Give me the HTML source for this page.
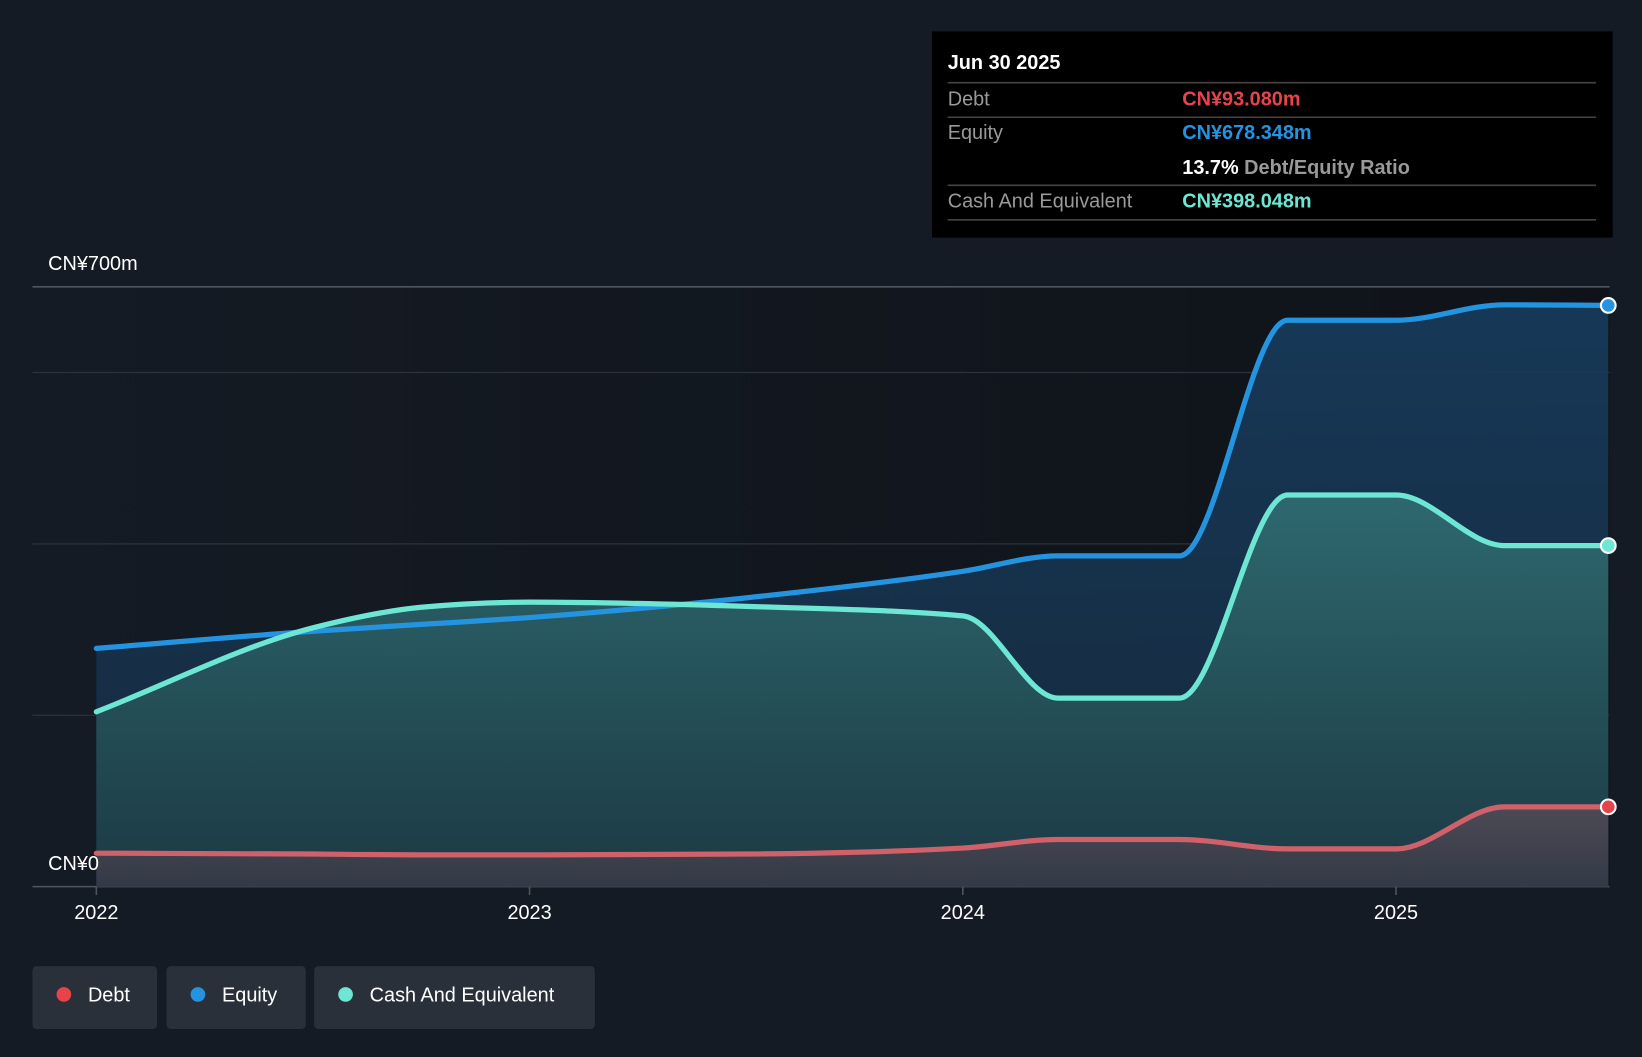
<!DOCTYPE html>
<html><head><meta charset="utf-8"><style>
html,body{margin:0;padding:0;background:#151b24;}
body{width:1642px;height:1052px;overflow:hidden;font-family:"Liberation Sans",sans-serif;}
svg text{font-family:"Liberation Sans",sans-serif;}
</style></head><body>
<svg id="chart" width="1642" height="1052" viewBox="0 0 1568 1005" preserveAspectRatio="none" xmlns="http://www.w3.org/2000/svg">
<defs>
<linearGradient id="gEq" x1="0" y1="0" x2="0" y2="1"><stop offset="0" stop-color="#173a5a"/><stop offset="1" stop-color="#152a3e"/></linearGradient>
<linearGradient id="gCash" x1="0" y1="0" x2="0" y2="1"><stop offset="0" stop-color="#2f6b70"/><stop offset="1" stop-color="#1c3a44"/></linearGradient>
<linearGradient id="gDebt" x1="0" y1="0" x2="0" y2="1"><stop offset="0" stop-color="#4f4a55"/><stop offset="1" stop-color="#343a46"/></linearGradient>
<linearGradient id="gBg" x1="0" y1="0" x2="1" y2="0"><stop offset="0" stop-color="#151b24"/><stop offset="1" stop-color="#0f1319"/></linearGradient>
</defs>
<rect x="31" y="274" width="1506" height="573" fill="url(#gBg)"/>
<g id="grid"></g>
<g id="areas"></g>
<g id="lines"></g>
<g id="xaxis"></g>
<text x="46" y="258" fill="#fff" font-size="19">CN¥700m</text>
<text x="46" y="831" fill="#fff" font-size="19">CN¥0</text>
<g>
<rect x="890" y="30" width="650" height="197" fill="#000"/>
<text x="905" y="66" fill="#fff" font-size="19" font-weight="bold">Jun 30 2025</text>
<line x1="905" y1="79" x2="1524" y2="79" stroke="#444" stroke-width="1.5"/>
<text x="905" y="101" fill="#999" font-size="19">Debt</text>
<text x="1129" y="101" fill="#e8434a" font-size="19" font-weight="bold">CN¥93.080m</text>
<line x1="905" y1="112" x2="1524" y2="112" stroke="#444" stroke-width="1.5"/>
<text x="905" y="133" fill="#999" font-size="19">Equity</text>
<text x="1129" y="133" fill="#2494e0" font-size="19" font-weight="bold">CN¥678.348m</text>
<text x="1129" y="166" fill="#fff" font-size="19" font-weight="bold">13.7% <tspan fill="#999">Debt/Equity Ratio</tspan></text>
<line x1="905" y1="177" x2="1524" y2="177" stroke="#444" stroke-width="1.5"/>
<text x="905" y="198" fill="#999" font-size="19">Cash And Equivalent</text>
<text x="1129" y="198" fill="#6ee6d4" font-size="19" font-weight="bold">CN¥398.048m</text>
<line x1="905" y1="210" x2="1524" y2="210" stroke="#444" stroke-width="1.5"/>
</g>
<g><rect x="31" y="923" width="119" height="60" rx="4" fill="#2a303a"/><circle cx="61" cy="950" r="7" fill="#e8434a"/><text x="84" y="957" fill="#fff" font-size="19">Debt</text></g>
<g><rect x="159" y="923" width="133" height="60" rx="4" fill="#2a303a"/><circle cx="189" cy="950" r="7" fill="#2494e0"/><text x="212" y="957" fill="#fff" font-size="19">Equity</text></g>
<g><rect x="300" y="923" width="268" height="60" rx="4" fill="#2a303a"/><circle cx="330" cy="950" r="7" fill="#6ee6d4"/><text x="353" y="957" fill="#fff" font-size="19">Cash And Equivalent</text></g>
</svg>
<script>
const dates = [2022.0, 2022.5, 2022.75, 2023.0, 2023.5, 2024.0, 2024.22, 2024.5, 2024.75, 2025.0, 2025.25, 2025.49];
const equity = [278, 298, 306, 314, 337, 368, 386, 386, 661, 661, 679, 678.3];
const cash = [204, 302, 326, 332, 327, 316, 220, 220, 457, 457, 398, 398.0];
const debt = [39, 38, 37, 37, 38, 45, 55, 55, 44, 44, 93, 93.1];
const gridValues = [0, 200, 400, 600, 700];
const xTicks = [2022, 2023, 2024, 2025];
const xTickLabels = ["2022", "2023", "2024", "2025"];

const NS = "http://www.w3.org/2000/svg";
function xS(t){ return 92 + (t - 2022) * 413.7; }
function yS(v){ return 847 - v * (573/700); }
function mk(tag, attrs, parent){ const e = document.createElementNS(NS, tag); for (const k in attrs) e.setAttribute(k, attrs[k]); parent.appendChild(e); return e; }

function monotonePath(xs, ys){
  const n = xs.length, dx=[], m=[], t=new Array(n);
  for (let i=0;i<n-1;i++){ dx[i]=xs[i+1]-xs[i]; m[i]=(ys[i+1]-ys[i])/dx[i]; }
  t[0]=m[0]; t[n-1]=m[n-2];
  for (let i=1;i<n-1;i++){
    if (m[i-1]*m[i] <= 0) t[i]=0;
    else { const h0=dx[i-1], h1=dx[i]; const p=(m[i-1]*h1+m[i]*h0)/(h0+h1);
      t[i]=(Math.sign(m[i-1])+Math.sign(m[i]))*Math.min(Math.abs(m[i-1]),Math.abs(m[i]),0.5*Math.abs(p)); }
  }
  let d = "M"+xs[0]+","+ys[0];
  for (let i=0;i<n-1;i++){ const h=dx[i]/3;
    d += "C"+(xs[i]+h)+","+(ys[i]+t[i]*h)+" "+(xs[i+1]-h)+","+(ys[i+1]-t[i+1]*h)+" "+xs[i+1]+","+ys[i+1]; }
  return d;
}

const grid = document.getElementById('grid');
gridValues.forEach(v => {
  const l = mk('line', {x1:31, x2:1537, y1:yS(v), y2:yS(v), stroke: v===700||v===0 ? '#50555e' : '#2c323b', 'stroke-width': v===700||v===0 ? 1.5 : 1.2}, grid);
  
  
});

const xsPix = dates.map(xS);
const areas = document.getElementById('areas'), lines = document.getElementById('lines');
const series = [
  {vals: equity, fill: 'url(#gEq)', stroke: '#2494e0', name: 'equity'},
  {vals: cash, fill: 'url(#gCash)', stroke: '#6ee6d4', name: 'cash'},
  {vals: debt, fill: 'url(#gDebt)', stroke: '#d0616a', name: 'debt'}
];
series.forEach(s => {
  const d = monotonePath(xsPix, s.vals.map(yS));
  const a = mk('path', {d: d + "L"+xsPix[xsPix.length-1]+",847L"+xsPix[0]+",847Z", fill: s.fill, 'fill-opacity': 0.95}, areas);
  
  
});
series.forEach(s => {
  const d = monotonePath(xsPix, s.vals.map(yS));
  const l = mk('path', {d: d, fill: 'none', stroke: s.stroke, 'stroke-width': 5, 'stroke-linecap': 'round'}, lines);
  
  
  const c = mk('circle', {cx: xsPix[xsPix.length-1], cy: yS(s.vals[s.vals.length-1]), r: 7, fill: s.name==='debt' ? '#e8434a' : s.stroke, stroke: '#fff', 'stroke-width': 2}, lines);
  
  
});

const xa = document.getElementById('xaxis');
xTicks.forEach((t, i) => {
  const tk = mk('line', {x1: xS(t), x2: xS(t), y1: 847, y2: 855, stroke: '#50555e', 'stroke-width': 1.5}, xa);
  
  
  const tx = mk('text', {x: xS(t), y: 878, fill: '#fff', 'font-size': 19, 'text-anchor': 'middle'}, xa);
  tx.textContent = xTickLabels[i];
  
  
});
</script>
</body></html>
